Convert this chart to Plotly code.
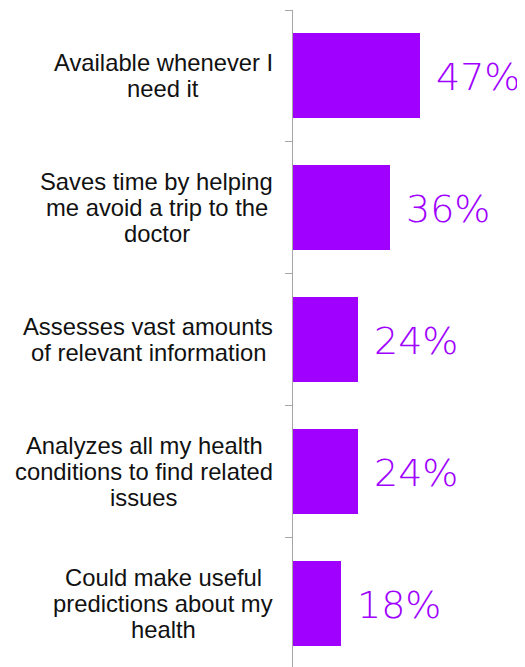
import plotly.graph_objects as go

categories = [
    "Available whenever I<br>need it",
    "Saves time by helping<br>me avoid a trip to the<br>doctor",
    "Assesses vast amounts<br>of relevant information",
    "Analyzes all my health<br>conditions to find related<br>issues",
    "Could make useful<br>predictions about my<br>health",
]
values = [47, 36, 24, 24, 18]
value_labels = ["47%", "36%", "24%", "24%", "18%"]

PURPLE = "#A000FF"
LABEL_SIZE = 23.8
LINE_H = 26

# Arial / Liberation Sans advance widths (per 1000 em) for width estimation
AW = {" ": 278, "A": 667, "S": 667, "C": 722, "I": 278, "a": 556, "b": 556, "c": 500,
      "d": 556, "e": 556, "f": 278, "g": 556, "h": 556, "i": 222, "k": 500, "l": 222,
      "m": 833, "n": 556, "o": 556, "p": 556, "r": 333, "s": 500, "t": 278, "u": 556,
      "v": 500, "w": 722, "y": 500, "z": 500}


def text_w(s):
    return sum(AW.get(ch, 556) for ch in s) * LABEL_SIZE / 1000.0


ypos = list(range(len(categories)))

fig = go.Figure()
fig.add_trace(go.Bar(
    x=values, y=ypos, orientation="h", width=0.645,
    marker=dict(color=PURPLE, line=dict(width=0)),
    hoverinfo="skip",
))

annotations = []
for i, (v, t) in enumerate(zip(values, value_labels)):
    annotations.append(dict(
        x=v, y=i, xref="x", yref="y", text=t, showarrow=False,
        xanchor="left", yanchor="middle", xshift=14, yshift=-1,
        font=dict(family="DejaVu Sans", size=38, color=PURPLE, weight=200),
    ))

for i, cat in enumerate(categories):
    lines = cat.split("<br>")
    widest = max(text_w(l) for l in lines)
    cx = -(20 + widest / 2.0)
    n = len(lines)
    for k, line in enumerate(lines):
        annotations.append(dict(
            x=0, y=i, xref="x", yref="y", text=line, showarrow=False,
            xanchor="center", yanchor="middle",
            xshift=cx, yshift=((n - 1) / 2.0 - k) * LINE_H,
            font=dict(family="Liberation Sans, Arial", size=LABEL_SIZE, color="#111111"),
        ))

# page body has an 8px default margin, so the figure is offset by (8, 8)
fig.update_layout(
    width=517, height=659,
    margin=dict(l=285, r=0, t=2, b=0, pad=0, autoexpand=False),
    paper_bgcolor="white", plot_bgcolor="white",
    showlegend=False,
    bargap=0,
    annotations=annotations,
    xaxis=dict(range=[0, 86.2], visible=False, fixedrange=True, automargin=False),
    yaxis=dict(
        range=[4.481, -0.5], tickmode="array",
        tickvals=[-0.5, 0.5, 1.5, 2.5, 3.5], ticktext=["", "", "", "", ""],
        ticks="outside", ticklen=7, tickcolor="#A6A6A6", tickwidth=1,
        showline=True, linecolor="#A6A6A6", linewidth=1,
        showgrid=False, zeroline=False, fixedrange=True, automargin=False,
    ),
)

fig.write_html("out.html", config={"displayModeBar": False})
